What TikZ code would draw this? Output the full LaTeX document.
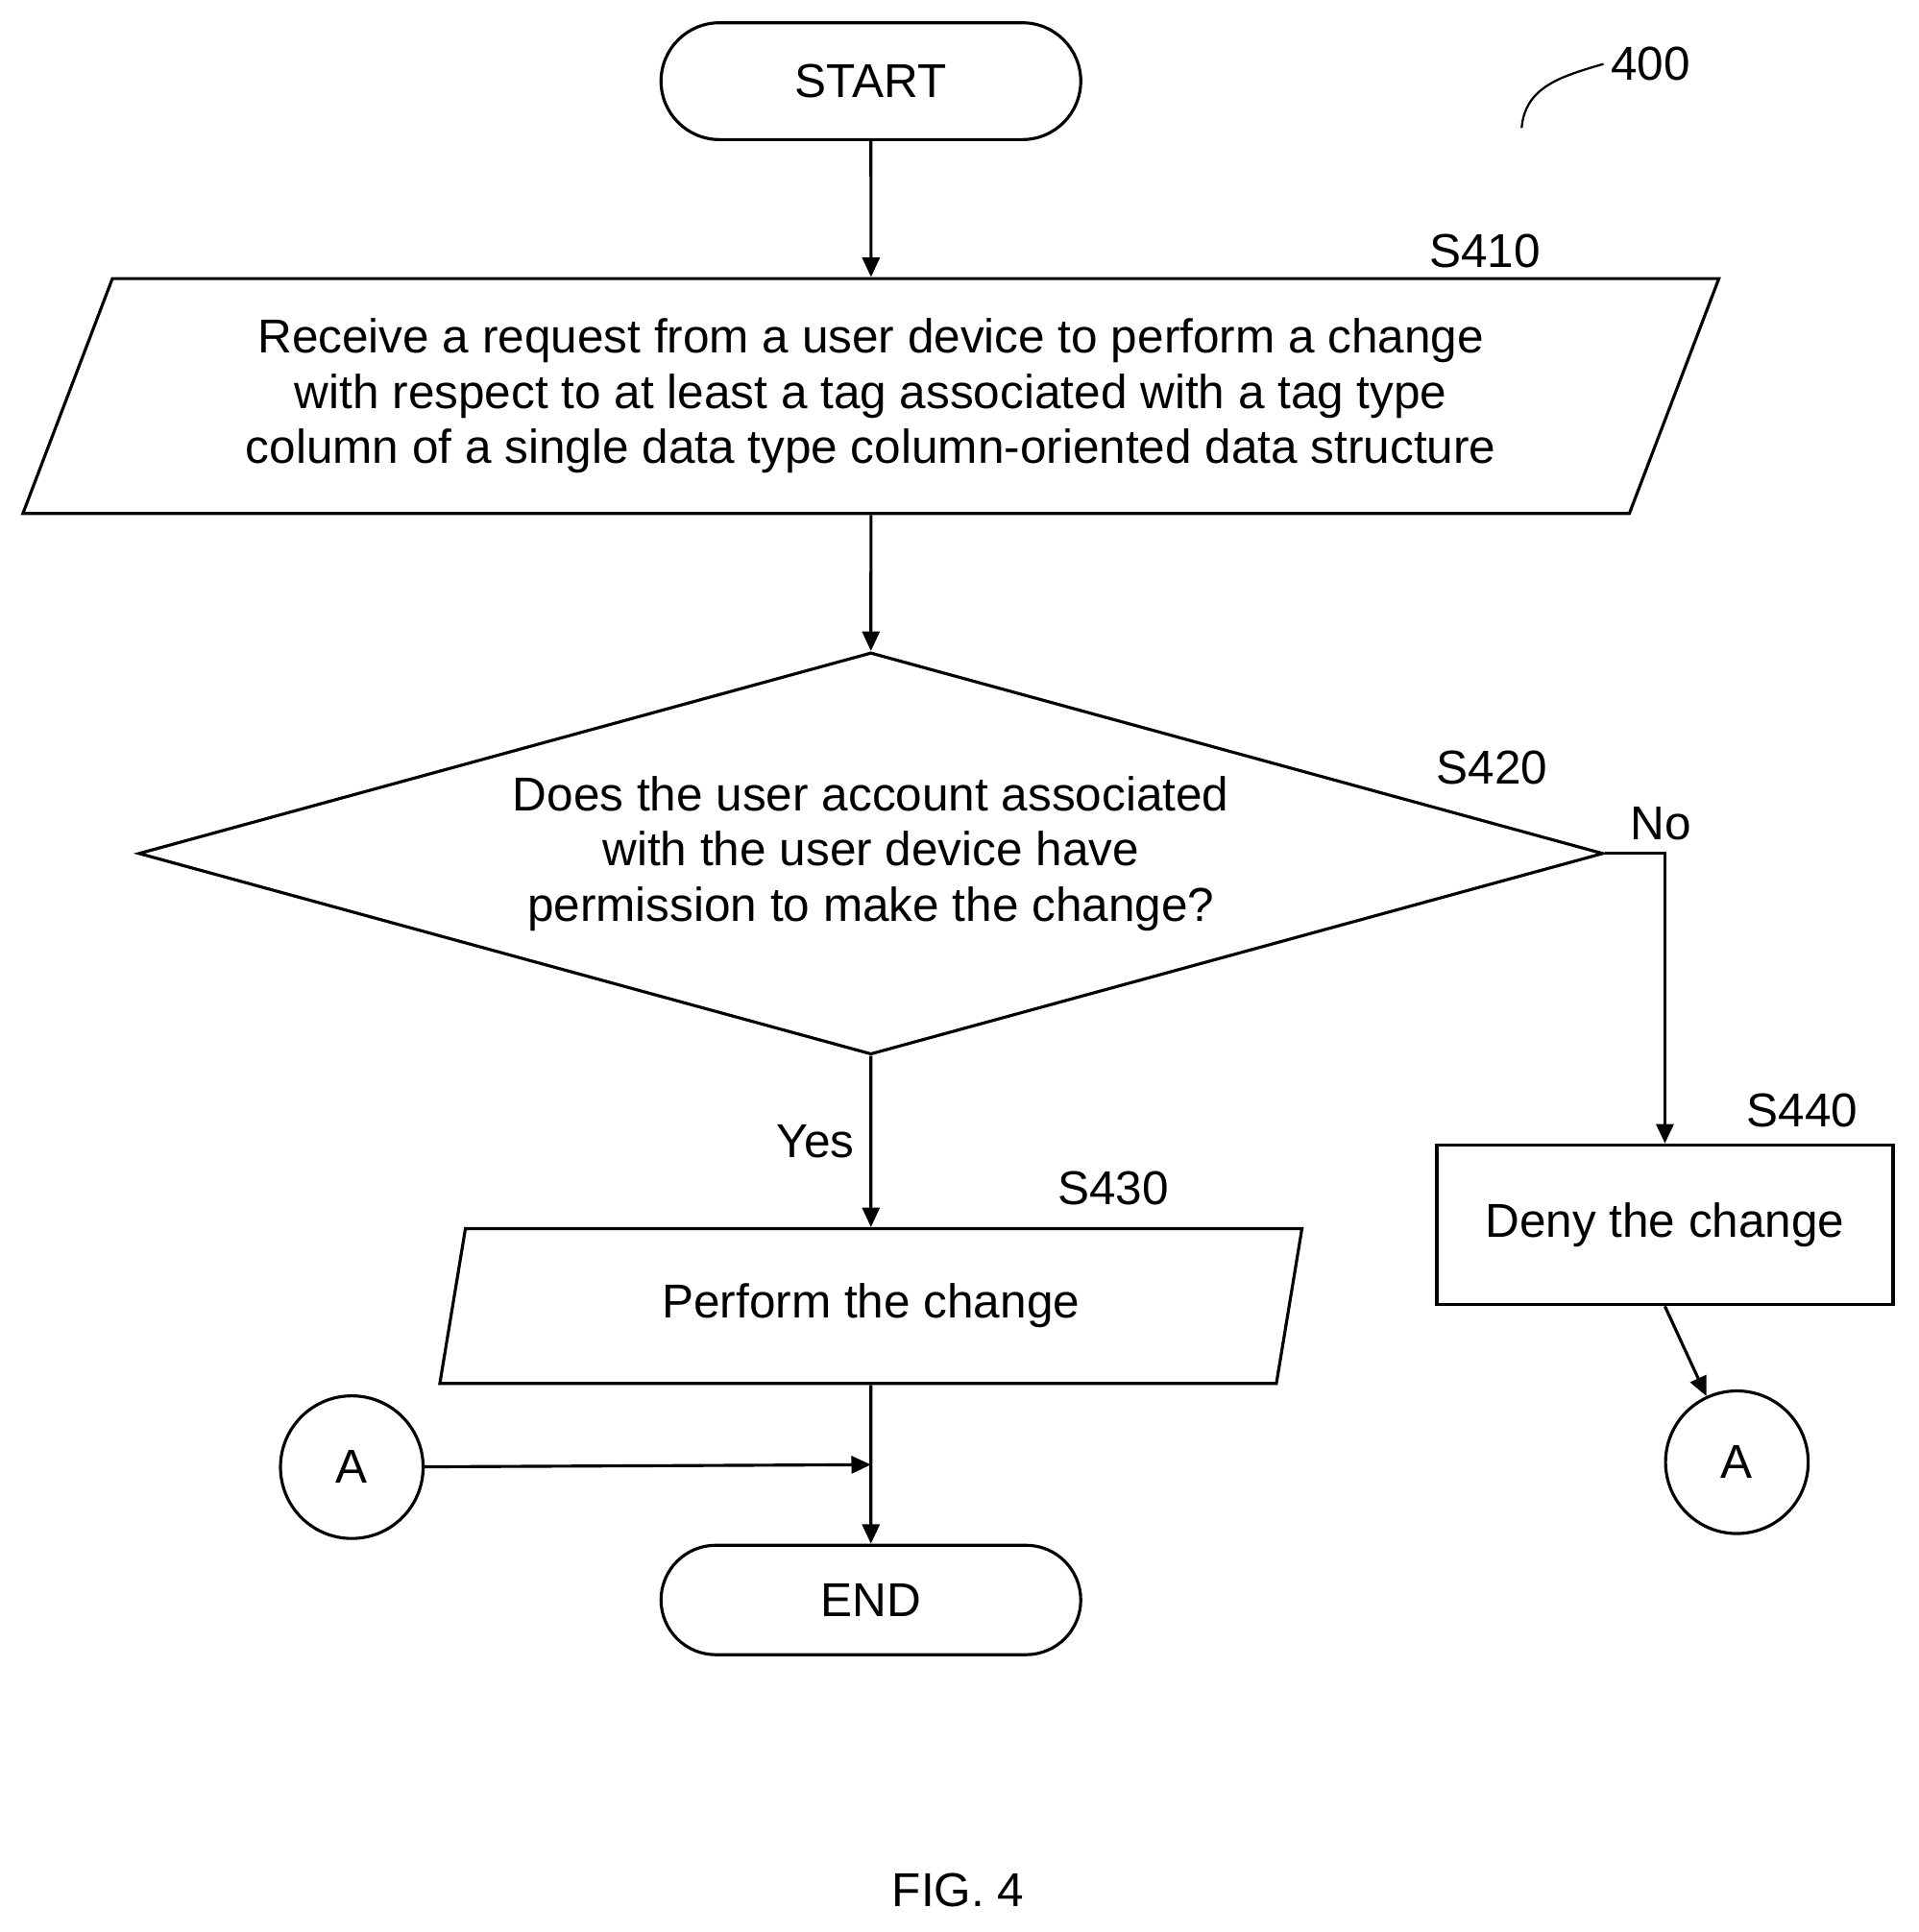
\documentclass[tikz,border=0pt]{standalone}
\usepackage{fontspec}
\setmainfont{Liberation Sans}
\usetikzlibrary{shapes.geometric,shapes.misc,positioning,arrows.meta}
\tikzset{
  base/.style={draw,line width=1.4pt,align=center,font=\fontsize{22}{25.6}\selectfont},
  term/.style={base,rounded rectangle,minimum width=7.06cm,minimum height=1.9cm},
  io/.style={base,trapezium,trapezium left angle=60,trapezium right angle=120,trapezium stretches body=true,inner sep=0pt},
  dec/.style={base,diamond,inner sep=0pt,shape aspect=3.64},
  proc/.style={base,rectangle},
  conn/.style={base,circle,minimum size=2.32cm,inner sep=0pt},
  lbl/.style={font=\fontsize{22}{25.6}\selectfont},
  flow/.style={line width=1.4pt,-{Triangle[length=9pt,width=8pt]}}
}
\begin{document}
\begin{tikzpicture}[x=0.02cm,y=-0.02cm]
  \useasboundingbox (0,0) rectangle (1560,1571);

  % nodes
  \node[term] (start) at (708,66) {START};
  \node[io,minimum width=27.58cm,minimum height=3.82cm] (s410) at (708,322)
    {Receive a request from a user device to perform a change\\
     with respect to at least a tag associated with a tag type\\
     column of a single data type column-oriented data structure};
  \node[dec,minimum width=23.82cm,minimum height=6.54cm] (s420) at (708,694)
    {Does the user account associated\\ with the user device have\\ permission to make the change?};
  \node[io,minimum width=14.02cm,minimum height=2.52cm] (s430) at (708,1062) {Perform the change};
  \node[proc,minimum width=7.42cm,minimum height=2.6cm] (s440) at (1353.5,996) {Deny the change};
  \node[conn] (a1) at (286,1193) {A};
  \node[conn] (a2) at (1412,1189) {A};
  \node[term,minimum height=1.78cm] (end) at (708,1301) {END};

  % labels
  \node[lbl] (n400) at (1342,52) {400};
  \node[lbl] (l410) at (1207,204) {S410};
  \node[lbl] (l420) at (1213,624) {S420};
  \node[lbl] (l430) at (905,966) {S430};
  \node[lbl] (l440) at (1465,903) {S440};
  \node[lbl] (lno) at (1350,670) {No};
  \node[lbl] (lyes) at (663,928) {Yes};
  \node[lbl] (fig) at (779,1537) {FIG. 4};
  \draw[line width=1pt] (1237,104) .. controls (1240,70) and (1270,62) .. (n400.west);

  % connectors
  \draw[flow] (start) -- (s410);
  \draw[flow] (s410) -- (s420);
  \draw[flow] (s420) -- (s430);
  \draw[flow] (s420.east) -| (s440.north);
  \draw[flow] (s440.south) -- (a2);
  \coordinate (join) at (708,1191);
  \draw[flow] (a1) -- (join);
  \draw[flow] (s430) -- (end);
\end{tikzpicture}
\end{document}
